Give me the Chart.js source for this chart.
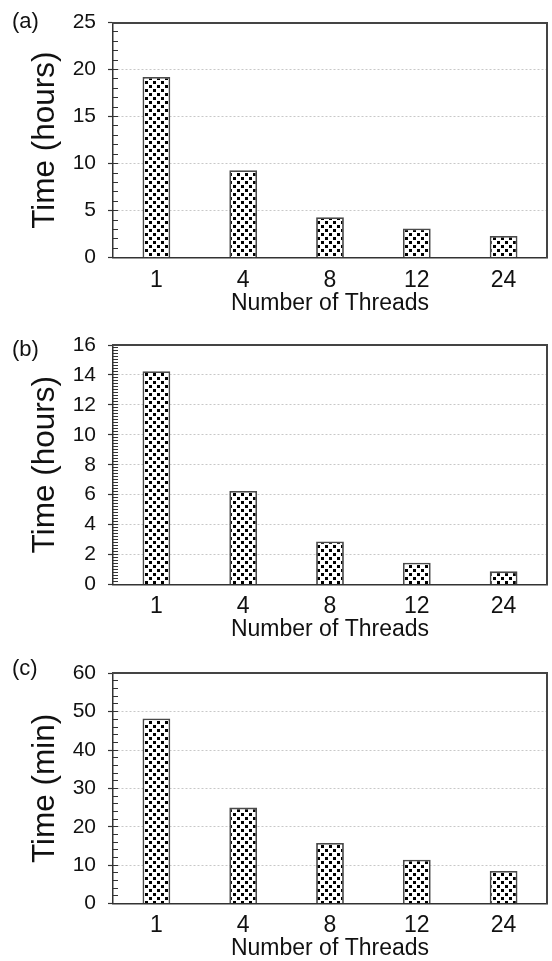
<!DOCTYPE html>
<html><head><meta charset="utf-8">
<script src="https://cdn.jsdelivr.net/npm/chart.js@4.4.1/dist/chart.umd.min.js"></script>
<style>
html,body{margin:0;padding:0;background:#fff;width:552px;height:961px;overflow:hidden}
.panel{position:absolute;left:0;width:552px}
canvas{display:block}
.lab{position:absolute;left:12px;font-family:"Liberation Sans",Arial,Helvetica,sans-serif;font-size:22px;line-height:22px;color:#111}
</style></head><body>
<div class="panel" style="top:0px"><canvas id="ca" width="552" height="320"></canvas></div>
<div class="panel" style="top:316px"><canvas id="cb" width="552" height="330"></canvas></div>
<div class="panel" style="top:636px"><canvas id="cc" width="552" height="325"></canvas></div>
<div class="lab" style="top:10px">(a)</div>
<div class="lab" style="top:338px">(b)</div>
<div class="lab" style="top:657px">(c)</div>
<script>
// ---- data ----
const categories = ['1', '4', '8', '12', '24'];
const timeA = [19.2, 9.3, 4.3, 3.1, 2.3];
const timeB = [14.25, 6.25, 2.88, 1.45, 0.88];
const timeC = [48.2, 25.0, 15.8, 11.4, 8.5];
const ticksA = [0, 5, 10, 15, 20, 25];
const ticksB = [0, 2, 4, 6, 8, 10, 12, 14, 16];
const ticksC = [0, 10, 20, 30, 40, 50, 60];
const minorStepA = 1;
const minorStepB = 0.2;
const minorStepC = 2;
const yTitleA = 'Time (hours)';
const yTitleB = 'Time (hours)';
const yTitleC = 'Time (min)';
const xTitle = 'Number of Threads';

// ---- style ----
const FONT = "'Liberation Sans', Arial, Helvetica, sans-serif";
const XH = 57;

function dotPattern() {
  const c = document.createElement('canvas');
  c.width = 8; c.height = 8;
  const g = c.getContext('2d');
  g.fillStyle = '#fff'; g.fillRect(0, 0, 8, 8);
  g.fillStyle = '#000';
  g.fillRect(1, 1, 3, 3);
  g.fillRect(5, 5, 3, 3);
  return g.createPattern(c, 'repeat');
}

function minorTicks(ticks, step) {
  const lo = ticks[0], hi = ticks[ticks.length - 1];
  const n = Math.round((hi - lo) / step);
  const out = [];
  for (let i = 0; i <= n; i++) out.push({value: lo + i * step});
  return out;
}

function makeChart(id, values, ticks, minorStep, yTitle, plotTop, plotBottom) {
  const cv = document.getElementById(id);
  const H = cv.height;
  const lo = ticks[0], hi = ticks[ticks.length - 1];
  new Chart(cv, {
    type: 'bar',
    data: {
      labels: categories,
      datasets: [{
        data: values,
        backgroundColor: dotPattern(),
        borderColor: '#4a4a4a',
        borderWidth: 1.8,
        borderSkipped: 'bottom',
        categoryPercentage: 1,
        barPercentage: 0.32
      }]
    },
    options: {
      responsive: false,
      animation: false,
      devicePixelRatio: 1,
      layout: {autoPadding: false, padding: {left: 30, right: 5, top: plotTop, bottom: H - plotBottom - XH}},
      plugins: {legend: {display: false}, tooltip: {enabled: false}},
      scales: {
        x: {
          type: 'category', position: 'bottom', offset: true,
          grid: {display: false, drawTicks: false},
          border: {display: true, color: '#333', width: 1.5},
          ticks: {font: {family: FONT, size: 23, lineHeight: 1}, color: '#111', padding: 11, maxRotation: 0, autoSkip: false},
          title: {display: true, text: xTitle, font: {family: FONT, size: 23, lineHeight: 1}, color: '#111', padding: 0},
          afterFit: s => { s.height = XH; }
        },
        y: {
          type: 'linear', position: 'left', weight: 1, min: lo, max: hi,
          afterBuildTicks: s => { s.ticks = ticks.map(v => ({value: v})); },
          grid: {color: '#c8c8c8', lineWidth: 1, drawTicks: true, tickLength: 5, tickColor: '#333', tickWidth: 1.2, tickBorderDash: []},
          border: {display: true, color: '#333', width: 1.5, dash: [2, 2]},
          ticks: {font: {family: FONT, size: 21, lineHeight: 1}, color: '#111', padding: 12},
          title: {display: true, text: yTitle, font: {family: FONT, size: 31.5, lineHeight: 1}, color: '#111', padding: 0},
          afterFit: s => { s.width = 83; }
        },
        yMinor: {
          type: 'linear', position: 'left', weight: 0, min: lo, max: hi,
          afterBuildTicks: s => { s.ticks = minorTicks(ticks, minorStep); },
          ticks: {display: false},
          grid: {drawOnChartArea: false, drawTicks: true, tickLength: -5, tickColor: '#333', tickWidth: 1, tickBorderDash: []},
          border: {display: false},
          afterFit: s => { s.width = 0; }
        },
        yRight: {
          type: 'linear', position: 'right', min: 0, max: 1,
          ticks: {display: false},
          grid: {display: false, drawTicks: false},
          border: {display: true, color: '#444', width: 2},
          afterFit: s => { s.width = 0; }
        },
        xTop: {
          type: 'linear', position: 'top', min: 0, max: 1,
          ticks: {display: false},
          grid: {display: false, drawTicks: false},
          border: {display: true, color: '#444', width: 2},
          afterFit: s => { s.height = 0; }
        }
      }
    }
  });
}

makeChart('ca', timeA, ticksA, minorStepA, yTitleA, 20.7, 257.7);
makeChart('cb', timeB, ticksB, minorStepB, yTitleB, 29, 268.5);
makeChart('cc', timeC, ticksC, minorStepC, yTitleC, 37.3, 267.5);
</script>
</body></html>
